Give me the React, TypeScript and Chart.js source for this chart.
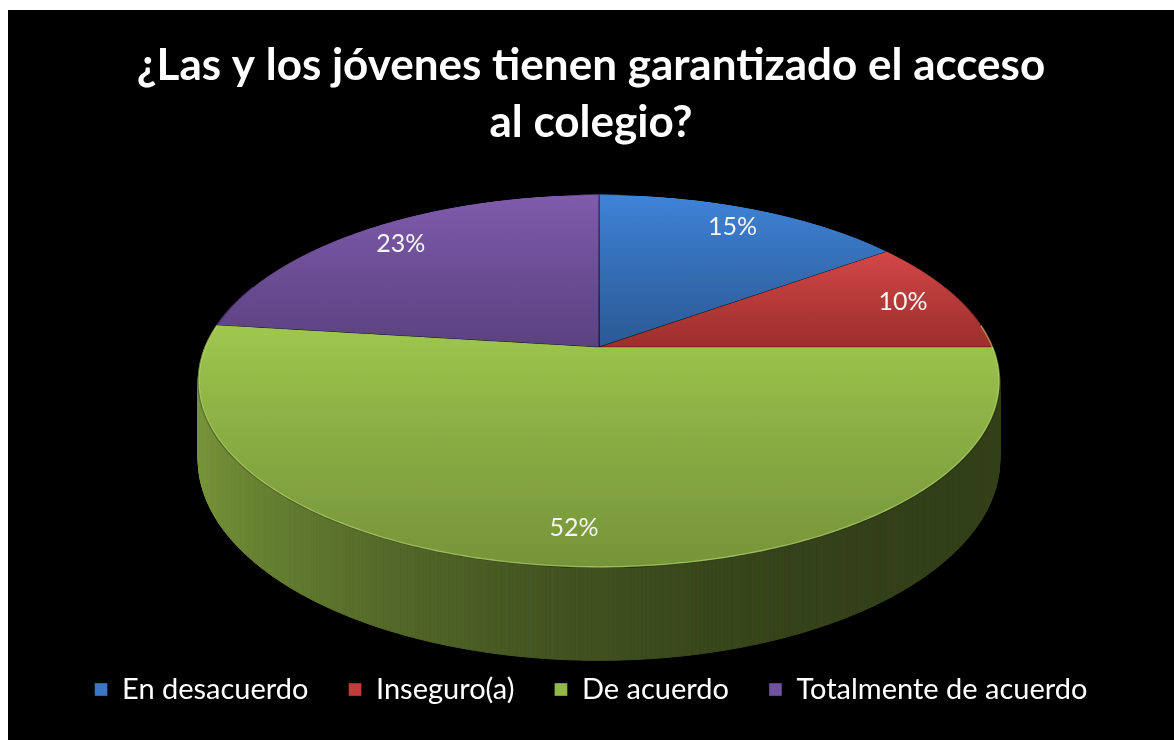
import React, { useEffect, useRef } from 'react';
import { Chart, registerables } from 'chart.js';

Chart.register(...registerables);

// ---- data ----
const categories = ['En desacuerdo', 'Inseguro(a)', 'De acuerdo', 'Totalmente de acuerdo'];
const values = [15, 10, 52, 23];
const titleLines = ['¿Las y los jóvenes tienen garantizado el acceso', 'al colegio?'];

// ---- styles ----
const legendColors = ['#3b76c4', '#c23d3a', '#92b848', '#7152a0'];
const lightColors = ['#3f84d8', '#d44848', '#a0c84e', '#805cad'];
const darkColors = ['#2b5a96', '#9c2f2c', '#76953a', '#5c4282'];
const sideBase = [
  [62, 132, 216],
  [212, 72, 72],
  [160, 200, 78],
  [128, 92, 173],
];

// ---- layout / projection of the tilted disk ----
const W = 1166;
const H = 730;
const CX = 591;
const CY = 337;
const KX = 394;
const KY = 180;
const PERSP = 0.183;
const DEPTH = 76;
const LABEL_R = 0.85;
const SRC_R = 420;

function proj(u: number, v: number) {
  const w = 1 + PERSP * v;
  return { x: CX + (KX * u) / w, y: CY - (KY * v) / w, w };
}

const pie3d = {
  id: 'pie3d',
  beforeDatasetsDraw(chart: any) {
    const meta = chart.getDatasetMeta(0);
    const arcs: any[] = meta.data;
    if (!arcs.length) return false;
    const ctx: CanvasRenderingContext2D = chart.ctx;
    const total = values.reduce((a, b) => a + b, 0);

    // 1) let Chart.js draw each arc (flat) into an offscreen canvas
    const off = document.createElement('canvas');
    off.width = SRC_R * 2;
    off.height = SRC_R * 2;
    const octx = off.getContext('2d') as CanvasRenderingContext2D;
    const a0 = arcs[0];
    const scale = SRC_R / a0.outerRadius;
    octx.setTransform(scale, 0, 0, scale, SRC_R - a0.x * scale, SRC_R - a0.y * scale);
    arcs.forEach((arc, i) => {
      const { x, y, outerRadius: r, startAngle: s, endAngle: e } = arc;
      const ys = [y, y + r * Math.sin(s), y + r * Math.sin(e)];
      for (const c of [-Math.PI / 2, Math.PI / 2, (3 * Math.PI) / 2]) {
        if (c > s && c < e) ys.push(y + r * Math.sin(c));
      }
      const top = Math.min(...ys);
      const bot = Math.max(...ys);
      const g = octx.createLinearGradient(0, top, 0, bot);
      g.addColorStop(0, lightColors[i]);
      g.addColorStop(1, darkColors[i]);
      const saved = arc.options;
      const o = Object.create(saved);
      o.backgroundColor = g;
      arc.options = o;
      arc.draw(octx);
      arc.options = saved;
    });

    // 2) side walls, back to front
    const segs: any[] = [];
    const step = (0.5 * Math.PI) / 180;
    arcs.forEach((arc, i) => {
      const span = arc.endAngle - arc.startAngle;
      const n = Math.max(2, Math.ceil(span / step));
      for (let k = 0; k < n; k++) {
        const a1 = arc.startAngle + (span * k) / n;
        const a2 = arc.startAngle + (span * (k + 1)) / n;
        const am = (a1 + a2) / 2;
        segs.push({ i, a1, a2, u: Math.cos(am), v: -Math.sin(am) });
      }
    });
    segs.sort((p, q) => q.v - p.v);
    ctx.save();
    for (const s of segs) {
      if (s.v > 0.35) continue;
      const p1 = proj(Math.cos(s.a1), -Math.sin(s.a1));
      const p2 = proj(Math.cos(s.a2), -Math.sin(s.a2));
      const b = 0.4 - 0.22 * s.u + 0.15 * s.u * s.u;
      const [r, g, bb] = sideBase[s.i];
      const col = `rgb(${Math.round(r * b)},${Math.round(g * b)},${Math.round(bb * b)})`;
      ctx.beginPath();
      ctx.moveTo(p1.x, p1.y);
      ctx.lineTo(p2.x, p2.y);
      ctx.lineTo(p2.x, p2.y + DEPTH / p2.w);
      ctx.lineTo(p1.x, p1.y + DEPTH / p1.w);
      ctx.closePath();
      ctx.fillStyle = col;
      ctx.strokeStyle = col;
      ctx.lineWidth = 1;
      ctx.fill();
      ctx.stroke();
    }
    ctx.restore();

    // 3) top face: perspective warp of the flat pie, row by row
    ctx.save();
    ctx.imageSmoothingEnabled = true;
    const yTop = Math.floor(CY - KY / (1 + PERSP)) - 1;
    const yBot = Math.ceil(CY + KY / (1 - PERSP)) + 1;
    for (let yd = yTop; yd <= yBot; yd++) {
      const t = (CY - (yd + 0.5)) / KY;
      let v = t / (1 - PERSP * t);
      if (v > 1.004 || v < -1.004) continue;
      v = Math.max(-1, Math.min(1, v));
      const w = 1 + PERSP * v;
      const half = KX / w;
      let ys = (1 - v) * SRC_R - 0.5;
      ys = Math.max(0, Math.min(SRC_R * 2 - 1, ys));
      ctx.drawImage(off, 0, ys, SRC_R * 2, 1, CX - half, yd, half * 2, 1);
    }
    ctx.restore();

    // front rim highlight
    ctx.save();
    ctx.beginPath();
    const n = 240;
    for (let k = 0; k <= n; k++) {
      const a = -0.12 + ((Math.PI + 0.24) * k) / n;
      const p = proj(Math.cos(a) * 0.998, -Math.sin(a) * 0.998);
      if (k === 0) ctx.moveTo(p.x, p.y);
      else ctx.lineTo(p.x, p.y);
    }
    ctx.strokeStyle = 'rgba(205,240,130,0.55)';
    ctx.lineWidth = 1.3;
    ctx.stroke();
    ctx.restore();

    // 4) percentage labels
    ctx.save();
    ctx.fillStyle = '#f4f4f4';
    ctx.font = '25px Lato';
    ctx.textAlign = 'center';
    ctx.textBaseline = 'middle';
    arcs.forEach((arc, i) => {
      const m = (arc.startAngle + arc.endAngle) / 2;
      const p = proj(LABEL_R * Math.cos(m), -LABEL_R * Math.sin(m));
      ctx.fillText(`${Math.round((values[i] / total) * 100)}%`, p.x, p.y);
    });
    ctx.restore();

    return false;
  },
};

export default function App() {
  const ref = useRef<HTMLCanvasElement>(null);
  useEffect(() => {
    const canvas = ref.current;
    if (!canvas) return;
    const chart = new Chart(canvas, {
      type: 'pie',
      data: {
        labels: categories,
        datasets: [
          {
            data: values,
            backgroundColor: legendColors,
            borderColor: 'rgba(0,0,0,0.35)',
            borderWidth: 1,
          },
        ],
      },
      options: {
        responsive: false,
        animation: false,
        devicePixelRatio: 1,
        events: [],
        layout: { padding: { bottom: 26 } },
        plugins: {
          title: {
            display: true,
            text: titleLines,
            color: '#ffffff',
            font: { family: 'Lato', size: 44, weight: 'bold', lineHeight: 1.3 },
            padding: { top: 27, bottom: 20 },
          },
          legend: {
            position: 'bottom',
            labels: {
              color: '#ffffff',
              font: { family: 'Lato', size: 29 },
              boxWidth: 13,
              boxHeight: 13,
              padding: 40,
            },
          },
          tooltip: { enabled: false },
        },
      } as any,
      plugins: [pie3d as any],
    });
    return () => chart.destroy();
  }, []);
  return (
    <div style={{ position: 'fixed', left: 8, top: 10, width: W, height: H, background: '#000' }}>
      <canvas ref={ref} width={W} height={H} style={{ display: 'block', width: W, height: H }} />
    </div>
  );
}
